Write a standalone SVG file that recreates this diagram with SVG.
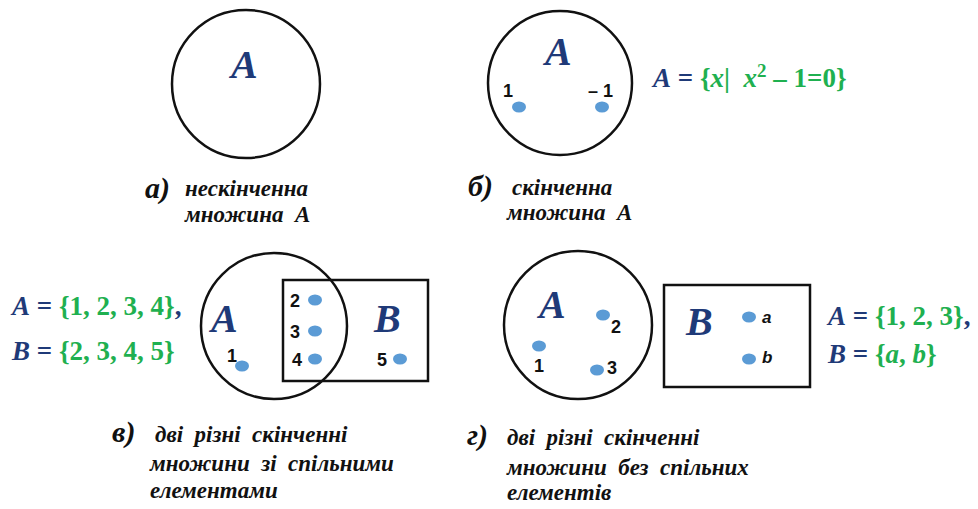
<svg xmlns="http://www.w3.org/2000/svg" width="978" height="509" viewBox="0 0 978 509">
<style>
.sh{fill:none;stroke:#111;stroke-width:2.5}
.dot{fill:#5b9bd5}
.big{font-family:"Liberation Serif","Times New Roman","DejaVu Serif",serif;font-weight:bold;font-style:italic;font-size:40px;fill:#1f3a78}
.num{font-family:"Liberation Sans",Arial,sans-serif;font-weight:bold;font-size:18px;fill:#111}
.numi{font-family:"Liberation Sans",Arial,sans-serif;font-weight:bold;font-style:italic;font-size:17px;fill:#111}
.cap{font-family:"Liberation Serif","Times New Roman","DejaVu Serif",serif;font-weight:bold;font-style:italic;font-size:23px;fill:#111;white-space:pre}
.let{font-family:"Liberation Serif","Times New Roman","DejaVu Serif",serif;font-weight:bold;font-style:italic;font-size:30px;fill:#111}
.eq{font-family:"Liberation Serif","Times New Roman","DejaVu Serif",serif;font-weight:bold;font-size:27px;fill:#1fb050;white-space:pre}
.eqb{fill:#1f3a78}
.it{font-style:italic}
</style>
<g id="panel-a">
<circle class="sh" cx="246" cy="84" r="74"/>
<text class="big" x="231" y="78">A</text>
<text class="let" x="145" y="198">а)</text>
<text class="cap" x="185" y="196">нескінченна</text>
<text class="cap" x="185" y="222">множина  А</text>
</g>
<g id="panel-b">
<circle class="sh" cx="560" cy="83" r="72"/>
<text class="big" x="545" y="65">A</text>
<ellipse class="dot" cx="519" cy="107" rx="7" ry="5.5"/>
<ellipse class="dot" cx="602" cy="107" rx="7" ry="5.5"/>
<text class="num" x="503" y="97">1</text>
<text class="num" x="588" y="97">– 1</text>
<text class="eq" x="653" y="87" font-size="28"><tspan class="eqb it">A</tspan><tspan class="eqb"> = </tspan>{<tspan class="it">x</tspan>|  <tspan class="it">x</tspan><tspan font-size="19" dy="-10">2</tspan><tspan dy="10"> – 1=0}</tspan></text>
<text class="let" x="468" y="196">б)</text>
<text class="cap" x="512" y="195">скінченна</text>
<text class="cap" x="507" y="220">множина  А</text>
</g>
<g id="panel-c">
<circle class="sh" cx="274" cy="326" r="73"/>
<rect class="sh" x="283" y="280" width="145" height="101"/>
<text class="big" x="211" y="332">A</text>
<text class="big" x="374" y="332">B</text>
<ellipse class="dot" cx="315" cy="300" rx="7" ry="5.5"/>
<ellipse class="dot" cx="315" cy="331" rx="7" ry="5.5"/>
<ellipse class="dot" cx="315" cy="359" rx="7" ry="5.5"/>
<ellipse class="dot" cx="242" cy="366" rx="7" ry="5.5"/>
<ellipse class="dot" cx="400" cy="359" rx="7" ry="5.5"/>
<text class="num" x="290" y="307">2</text>
<text class="num" x="290" y="338">3</text>
<text class="num" x="292" y="366">4</text>
<text class="num" x="227" y="362">1</text>
<text class="num" x="377" y="366">5</text>
<text class="eq" x="12" y="315"><tspan class="eqb it">A</tspan><tspan class="eqb"> = </tspan>{1, 2, 3, 4}<tspan class="eqb">,</tspan></text>
<text class="eq" x="12" y="360"><tspan class="eqb it">B</tspan><tspan class="eqb"> = </tspan>{2, 3, 4, 5}</text>
<text class="let" x="112" y="442">в)</text>
<text class="cap" x="155" y="442">дві  різні  скінченні</text>
<text class="cap" x="150" y="471">множини  зі  спільними</text>
<text class="cap" x="150" y="498">елементами</text>
</g>
<g id="panel-d">
<circle class="sh" cx="578" cy="325" r="74"/>
<rect class="sh" x="664" y="285" width="146" height="102"/>
<text class="big" x="539" y="318">A</text>
<text class="big" x="686" y="335">B</text>
<ellipse class="dot" cx="603" cy="315" rx="7" ry="5.5"/>
<ellipse class="dot" cx="539" cy="346" rx="7" ry="5.5"/>
<ellipse class="dot" cx="597" cy="370" rx="7" ry="5.5"/>
<ellipse class="dot" cx="749" cy="317" rx="7" ry="5.5"/>
<ellipse class="dot" cx="749" cy="359" rx="7" ry="5.5"/>
<text class="num" x="611" y="333">2</text>
<text class="num" x="534" y="372">1</text>
<text class="num" x="607" y="374">3</text>
<text class="numi" x="762" y="323">a</text>
<text class="numi" x="762" y="363">b</text>
<text class="eq" x="828" y="325"><tspan class="eqb it">A</tspan><tspan class="eqb"> = </tspan>{1, 2, 3}<tspan class="eqb">,</tspan></text>
<text class="eq" x="828" y="363"><tspan class="eqb it">B</tspan><tspan class="eqb"> = </tspan>{<tspan class="it">a</tspan>, <tspan class="it">b</tspan>}</text>
<text class="let" x="467" y="445">г)</text>
<text class="cap" x="507" y="445">дві  різні  скінченні</text>
<text class="cap" x="507" y="475">множини  без  спільних</text>
<text class="cap" x="507" y="500">елементів</text>
</g>
</svg>
